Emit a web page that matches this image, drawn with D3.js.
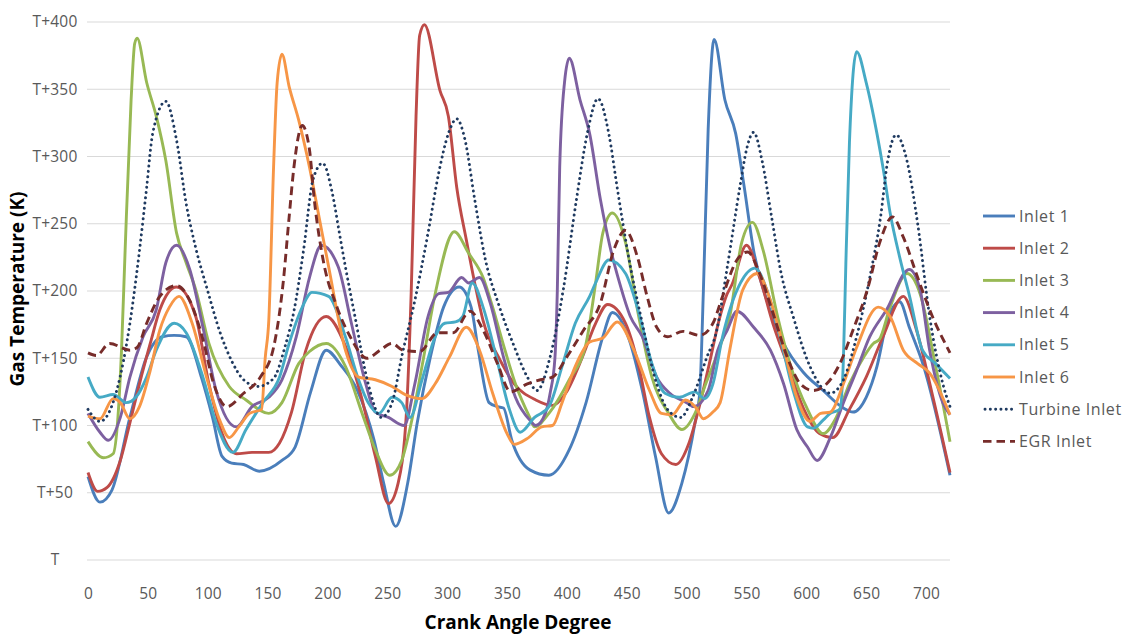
<!DOCTYPE html>
<html><head><meta charset="utf-8">
<script src="https://cdn.jsdelivr.net/npm/d3@7"></script>
<style>
html,body{margin:0;padding:0;background:#fff;}
svg{display:block;font-family:"Open Sans",sans-serif;}
</style></head>
<body><svg id="c" width="1138" height="639"></svg>
<script>
const seriesNames = ["Inlet 1","Inlet 2","Inlet 3","Inlet 4","Inlet 5","Inlet 6","Turbine Inlet","EGR Inlet"];
const xTicks = [0,50,100,150,200,250,300,350,400,450,500,550,600,650,700];
const yTicks = [0,50,100,150,200,250,300,350,400];
const yTickLabels = ["T","T+50","T+100","T+150","T+200","T+250","T+300","T+350","T+400"];

const inlet1 = [[0,62],[10,43],[20,52],[35,106],[49,151],[62,166],[72,167],[82,166],[95,135],[104,106],[112,77],[120,72],[130,71],[143,66],[162,74],[173,84],[186,125],[199,156],[211,145],[225,126],[239,89],[247,57],[257,25],[267,57],[275,102],[286,151],[297,188],[310,203],[320,188],[326,156],[335,117],[342,114],[347,113],[354,89],[369,67],[385,63],[402,82],[416,117],[430,166],[438,184],[452,164],[463,126],[474,77],[485,35],[496,57],[507,102],[511,125],[514,200],[518,320],[523,387],[532,342],[541,317],[548,278],[556,230],[567,193],[581,161],[598,139],[614,126],[631,113],[639,110],[650,121],[659,144],[667,176],[678,192],[686,173],[698,144],[720,63]];
const inlet2 = [[0,65],[8,51],[16,54],[27,74],[35,102],[43,131],[52,161],[60,186],[74,203],[90,181],[101,131],[112,94],[124,79],[137,80],[151,80],[160,87],[170,110],[182,156],[199,181],[215,159],[229,119],[240,77],[251,42],[259,57],[266,110],[270,200],[274,330],[277,390],[281,398],[294,349],[301,330],[308,277],[316,238],[323,206],[330,178],[344,149],[356,131],[374,119],[388,115],[399,124],[413,151],[424,176],[434,190],[449,176],[460,144],[469,106],[479,79],[491,71],[502,87],[510,112],[519,146],[527,178],[533,196],[538,205],[550,234],[561,210],[572,176],[584,146],[598,112],[611,94],[622,91],[636,112],[650,136],[664,166],[681,196],[692,171],[705,124],[720,65]];
const inlet3 = [[0,88],[10,77],[13,76],[21,79],[25,106],[28,156],[31,230],[36,342],[39,384],[41,388],[49,355],[57,330],[65,297],[74,243],[82,221],[90,201],[101,161],[118,129],[132,119],[151,109],[162,117],[176,146],[185,155],[199,161],[215,144],[229,109],[240,82],[252,63],[262,74],[270,102],[279,144],[290,198],[306,244],[318,228],[330,210],[338,188],[347,160],[357,131],[369,106],[373,99],[385,109],[402,134],[416,161],[424,206],[430,243],[438,258],[449,236],[460,181],[471,136],[485,109],[496,97],[507,109],[516,131],[528,159],[536,181],[546,236],[555,251],[564,230],[576,181],[587,144],[601,112],[614,94],[625,106],[636,131],[648,151],[656,161],[661,164],[670,188],[684,213],[695,198],[708,144],[720,88]];
const inlet4 = [[0,109],[10,95],[17,89],[27,106],[35,136],[46,166],[57,186],[65,221],[74,234],[85,216],[96,173],[107,126],[124,99],[137,114],[151,121],[162,134],[174,166],[185,210],[195,234],[209,218],[220,176],[232,131],[240,110],[251,106],[264,100],[273,131],[284,181],[293,198],[301,199],[312,210],[318,206],[327,210],[336,191],[347,151],[357,121],[369,104],[374,100],[382,109],[386,124],[390,150],[392,200],[394,292],[398,355],[402,373],[411,342],[419,317],[428,268],[436,233],[444,206],[453,181],[463,166],[475,136],[486,124],[500,117],[506,114],[518,126],[526,156],[534,171],[542,185],[556,173],[570,156],[581,131],[592,97],[601,84],[609,74],[620,91],[631,117],[642,141],[653,166],[667,186],[686,216],[695,201],[703,156],[714,117],[720,108]];
const inlet5 = [[0,136],[10,121],[21,123],[32,117],[40,121],[49,136],[57,156],[72,176],[82,169],[96,136],[107,102],[121,80],[132,97],[146,117],[160,136],[168,161],[179,188],[187,199],[201,196],[215,166],[226,134],[234,117],[243,109],[254,121],[262,117],[269,106],[279,134],[290,166],[298,176],[307,177],[313,181],[321,206],[330,188],[341,151],[352,112],[361,95],[373,106],[385,114],[396,144],[407,176],[419,196],[424,206],[435,223],[449,213],[460,184],[471,146],[482,124],[494,121],[507,125],[515,120],[522,131],[530,166],[545,206],[557,217],[567,201],[578,166],[589,126],[601,99],[606,98],[614,104],[620,109],[628,112],[631,150],[633,220],[636,310],[642,378],[650,355],[659,317],[664,292],[670,258],[678,225],[686,197],[697,156],[708,146],[720,135]];
const inlet6 = [[0,107],[10,105],[21,120],[27,117],[35,105],[43,114],[52,141],[60,171],[68,188],[76,196],[87,176],[99,136],[110,104],[118,91],[126,99],[135,109],[145,112],[148,150],[151,178],[155,292],[158,355],[162,376],[168,352],[176,327],[185,292],[193,255],[201,218],[215,156],[226,136],[240,134],[254,129],[265,123],[279,120],[290,131],[302,151],[316,173],[327,156],[338,124],[350,94],[356,86],[368,91],[379,99],[388,100],[396,117],[407,144],[419,162],[430,165],[442,177],[457,154],[469,126],[479,109],[488,108],[499,119],[508,113],[514,105],[522,110],[528,117],[536,156],[547,201],[559,213],[570,193],[581,158],[592,121],[603,103],[612,109],[620,110],[631,131],[642,158],[660,188],[670,181],[681,156],[693,146],[703,139],[720,108]];
const turbine = [[0,112],[10,103],[24,126],[35,176],[43,230],[49,277],[54,317],[65,341],[74,312],[82,265],[90,232],[100,200],[110,170],[120,148],[130,134],[142,129],[155,135],[165,160],[172,185],[180,230],[188,283],[196,295],[204,273],[210,243],[215,218],[223,181],[234,131],[245,106],[254,117],[262,151],[273,193],[284,243],[293,288],[301,317],[308,328],[315,312],[323,268],[332,223],[343,190],[355,161],[367,136],[375,126],[386,151],[397,201],[408,268],[417,317],[426,343],[435,317],[442,277],[451,228],[462,180],[475,131],[484,112],[495,106],[505,121],[517,151],[525,170],[534,218],[545,280],[550,305],[556,318],[563,297],[571,255],[579,213],[589,181],[603,144],[620,124],[631,134],[642,166],[653,210],[662,255],[668,297],[675,316],[684,297],[693,250],[703,181],[714,131],[720,114]];
const egr = [[0,154],[7,152],[18,161],[35,156],[41,158],[49,176],[60,196],[74,204],[85,193],[96,164],[105,131],[116,114],[130,124],[144,136],[155,158],[163,206],[168,255],[172,292],[179,323],[185,305],[189,268],[196,225],[208,188],[219,166],[233,150],[244,156],[254,161],[263,156],[277,155],[292,169],[305,169],[319,185],[330,171],[342,146],[353,125],[367,131],[378,134],[388,136],[400,151],[414,171],[428,191],[439,230],[449,245],[459,225],[467,196],[475,173],[484,166],[497,170],[511,167],[522,176],[530,196],[542,223],[551,229],[561,213],[572,184],[584,151],[595,131],[606,126],[617,131],[628,146],[639,171],[651,201],[662,238],[672,255],[681,240],[693,210],[703,186],[720,154]];

const seriesData = [inlet1,inlet2,inlet3,inlet4,inlet5,inlet6,turbine,egr];
const colors = ["#4a7ebb","#be4b48","#98b954","#7d60a0","#46aac5","#f79646","#1f3a60","#772c2a"];
const dashes = [null,null,null,null,null,null,"0.1 5.2","8.5 5"];

const svg = d3.select("#c");
const x = d3.scaleLinear().domain([0,720]).range([88,950]);
const y = d3.scaleLinear().domain([0,400]).range([560,22]);

// gridlines
svg.append("g").selectAll("line").data(yTicks).join("line")
  .attr("x1",87).attr("x2",950).attr("y1",d=>y(d)).attr("y2",d=>y(d))
  .attr("stroke","#d9d9d9").attr("stroke-width",1);

// y labels
svg.append("g").selectAll("text").data(yTicks).join("text")
  .attr("x",55).attr("y",d=>y(d)).attr("dy","0.35em").attr("text-anchor","middle")
  .attr("font-size",15.5).attr("letter-spacing",0.2).attr("fill","#595959").text((d,i)=>yTickLabels[i]);

// x labels
const xAxis = d3.axisBottom(x).tickValues(xTicks).tickSize(0).tickPadding(0);
const gx = svg.append("g").attr("transform","translate(0,588)").call(xAxis);
gx.select(".domain").remove();
gx.selectAll("text").attr("font-size",15.5).attr("letter-spacing",0.2).attr("fill","#595959").attr("font-family","Open Sans").attr("dy","0.71em");

// lines
const line = d3.line().x(d=>x(d[0])).y(d=>y(d[1])).curve(d3.curveMonotoneX);
seriesData.forEach((data,i)=>{
  const p = svg.append("path").datum(data).attr("d",line).attr("fill","none")
    .attr("stroke",colors[i]).attr("stroke-width",2.9).attr("stroke-linejoin","round");
  if(dashes[i]){p.attr("stroke-dasharray",dashes[i]);}
  if(i===6){p.attr("stroke-linecap","round").attr("stroke-width",2.9);}
});

// axis titles
svg.append("text").attr("x",518).attr("y",629).attr("text-anchor","middle")
  .attr("font-size",19).attr("font-weight","bold").attr("fill","#000").text("Crank Angle Degree");
svg.append("text").attr("transform","translate(24,289) rotate(-90)").attr("text-anchor","middle")
  .attr("font-size",19).attr("font-weight","bold").attr("fill","#000").text("Gas Temperature (K)");

// legend
const lg = svg.append("g");
seriesNames.forEach((n,i)=>{
  const yy = 216 + i*32.2;
  const l = lg.append("line").attr("x1",983).attr("x2",1015).attr("y1",yy).attr("y2",yy)
    .attr("stroke",colors[i]).attr("stroke-width",2.9);
  if(dashes[i]) l.attr("stroke-dasharray",dashes[i]);
  if(i===6) l.attr("stroke-linecap","round").attr("x1",985);
  lg.append("text").attr("x",1019).attr("y",yy).attr("dy","0.35em")
    .attr("font-size",16).attr("letter-spacing",0.6).attr("fill","#595959").text(n);
});
</script></body></html>
